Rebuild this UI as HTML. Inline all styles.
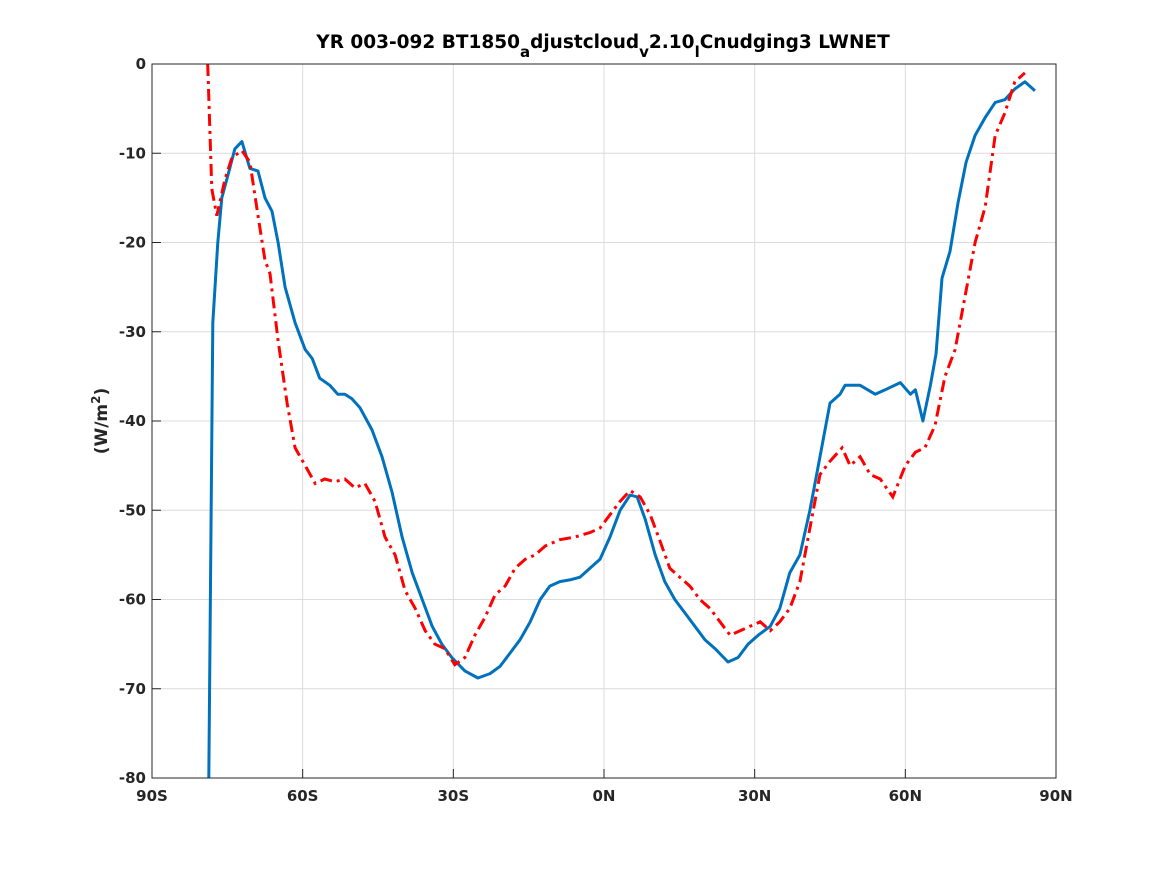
<!DOCTYPE html>
<html><head><meta charset="utf-8"><style>
body{margin:0;background:#fff;}
svg{font-family:"DejaVu Sans","Liberation Sans",sans-serif;}
</style></head><body>
<svg id="chart" width="1167" height="875">
<rect x="0" y="0" width="1167" height="875" fill="#fff"/>
<g id="grid"></g>
<g id="series"></g>
<rect x="152" y="64" width="904" height="714" fill="none" stroke="#262626" stroke-width="1"/>
<g id="ticks"></g>
<text x="603" y="48" text-anchor="middle" font-size="18.5" font-weight="bold" fill="#000">YR 003-092 BT1850<tspan baseline-shift="sub" font-size="15">a</tspan>djustcloud<tspan baseline-shift="sub" font-size="15">v</tspan>2.10<tspan baseline-shift="sub" font-size="15">l</tspan>Cnudging3 LWNET</text>
<text transform="translate(107,421) rotate(-90)" text-anchor="middle" font-size="17" font-weight="bold" fill="#262626">(W/m<tspan baseline-shift="super" font-size="12">2</tspan>)</text>
</svg>
<script>
const xTicks=[-90,-60,-30,0,30,60,90];
const xTickLabels=["90S","60S","30S","0N","30N","60N","90N"];
const yTicks=[0,-10,-20,-30,-40,-50,-60,-70,-80];
const yTickLabels=["0","-10","-20","-30","-40","-50","-60","-70","-80"];
const blueLat=[-78.7,-77.9,-76.9,-76.1,-74.9,-73.5,-72.1,-70.5,-68.9,-67.5,-66.1,-64.9,-63.5,-61.5,-59.5,-58.1,-56.6,-54.6,-53,-51.6,-50.2,-48.6,-46.2,-44.2,-42.2,-40.2,-38.2,-36.2,-34.2,-32.3,-30.3,-27.7,-25.1,-22.7,-20.7,-18.7,-16.7,-14.7,-12.7,-10.8,-8.8,-6.8,-4.8,-2.8,-0.8,1.2,3.2,5.2,6.6,8.2,10.2,12.1,14.1,16.1,18.1,20.1,22.1,24.7,26.7,28.7,30.7,33.1,35,37,39,41,43,45,47,48,51,54,56,59,61,62,63.5,65,66.1,67.3,68.9,70.5,72.1,73.9,75.9,77.9,79.8,81.8,83.8,85.8];
const blueVal=[-80,-29,-20,-15,-12.5,-9.5,-8.7,-11.7,-12,-15,-16.5,-20,-25,-29,-32,-33,-35.2,-36,-37,-37,-37.5,-38.5,-41,-44,-48,-53,-57,-60,-63,-65,-66.5,-68,-68.8,-68.3,-67.5,-66,-64.5,-62.5,-60,-58.5,-58,-57.8,-57.5,-56.5,-55.5,-53,-50,-48.3,-48.5,-51,-55,-58,-60,-61.5,-63,-64.5,-65.5,-67,-66.5,-65,-64,-63,-61,-57,-55,-50,-44,-38,-37,-36,-36,-37,-36.5,-35.7,-37,-36.5,-40,-36,-32.5,-24,-21,-15.5,-11,-8,-6,-4.3,-4,-2.8,-2,-3];
const redLat=[-78.9,-78.1,-77.1,-75.5,-74.1,-72.1,-70.5,-68.9,-67.5,-66.5,-64.9,-63.1,-61.5,-59.5,-57.5,-55.6,-53.6,-51.6,-49.6,-47.6,-45.6,-43.6,-41.6,-39.6,-37.6,-35.6,-33.7,-31.7,-29.7,-27.7,-25.7,-23.7,-21.7,-19.7,-17.7,-15.7,-13.7,-11.7,-8.8,-5.8,-2.8,-0.8,1.2,3.2,5.2,7.2,9.2,11.2,13.1,15.1,17.1,19.1,21.1,23.1,25.1,27.1,29.1,31.1,33.1,35,37,39,41,43,45,47.4,49,51,53,55,57.5,60,62,63.9,65.9,67.9,69.9,71.9,73.9,75.9,77.9,79.8,81.8,83.8];
const redVal=[0,-14,-17,-13,-10.5,-9.7,-11,-17,-22,-23.5,-31,-38,-43,-45,-47,-46.5,-46.8,-46.5,-47.5,-47,-49,-53,-55,-59,-61,-63.5,-65,-65.5,-67.3,-66.5,-64,-62,-59.5,-58.5,-56.5,-55.5,-55,-54,-53.3,-53,-52.5,-52,-50.5,-49,-47.8,-48.5,-50.5,-53.5,-56.5,-57.5,-58.5,-60,-61,-62.5,-64,-63.5,-63,-62.5,-63.5,-62.5,-61,-58,-52,-46,-44.5,-43,-45,-44,-46,-46.5,-48.5,-45,-43.5,-43,-40.5,-35,-32,-26,-20,-16,-8,-5.5,-2,-1];
const NS="http://www.w3.org/2000/svg";
const X=v=>152+(v+90)/180*904;
const Y=v=>64+(-v)/80*714;
const grid=document.getElementById('grid'),ticks=document.getElementById('ticks'),ser=document.getElementById('series');
function mk(tag,attrs,parent){const e=document.createElementNS(NS,tag);for(const k in attrs)e.setAttribute(k,attrs[k]);parent.appendChild(e);return e;}
xTicks.forEach((t,i)=>{
  const g=mk('line',{x1:X(t),x2:X(t),y1:64,y2:778,stroke:'#dcdcdc','stroke-width':1},grid);
  
  
  const tk=mk('line',{x1:X(t),x2:X(t),y1:778,y2:769,stroke:'#262626'},ticks);
  
  
  const tx=mk('text',{x:X(t),y:801,'text-anchor':'middle','font-size':15,'font-weight':'bold',fill:'#262626'},ticks);
  tx.textContent=xTickLabels[i];
  
  
});
yTicks.forEach((t,i)=>{
  const g=mk('line',{x1:152,x2:1056,y1:Y(t),y2:Y(t),stroke:'#dcdcdc','stroke-width':1},grid);
  
  
  const tk=mk('line',{x1:152,x2:161,y1:Y(t),y2:Y(t),stroke:'#262626'},ticks);
  
  
  const tx=mk('text',{x:146,y:Y(t)+5,'text-anchor':'end','font-size':15,'font-weight':'bold',fill:'#262626'},ticks);
  tx.textContent=yTickLabels[i];
  
  
});
function path(lat,val){return lat.map((l,i)=>(i?'L':'M')+X(l).toFixed(1)+','+Y(val[i]).toFixed(1)).join('');}
const b=mk('path',{d:path(blueLat,blueVal),fill:'none',stroke:'#0072BD','stroke-width':3,'stroke-linejoin':'round'},ser);


const r=mk('path',{d:path(redLat,redVal),fill:'none',stroke:'#FF0000','stroke-width':3,'stroke-dasharray':'12,5,3,5'},ser);


</script>
</body></html>
